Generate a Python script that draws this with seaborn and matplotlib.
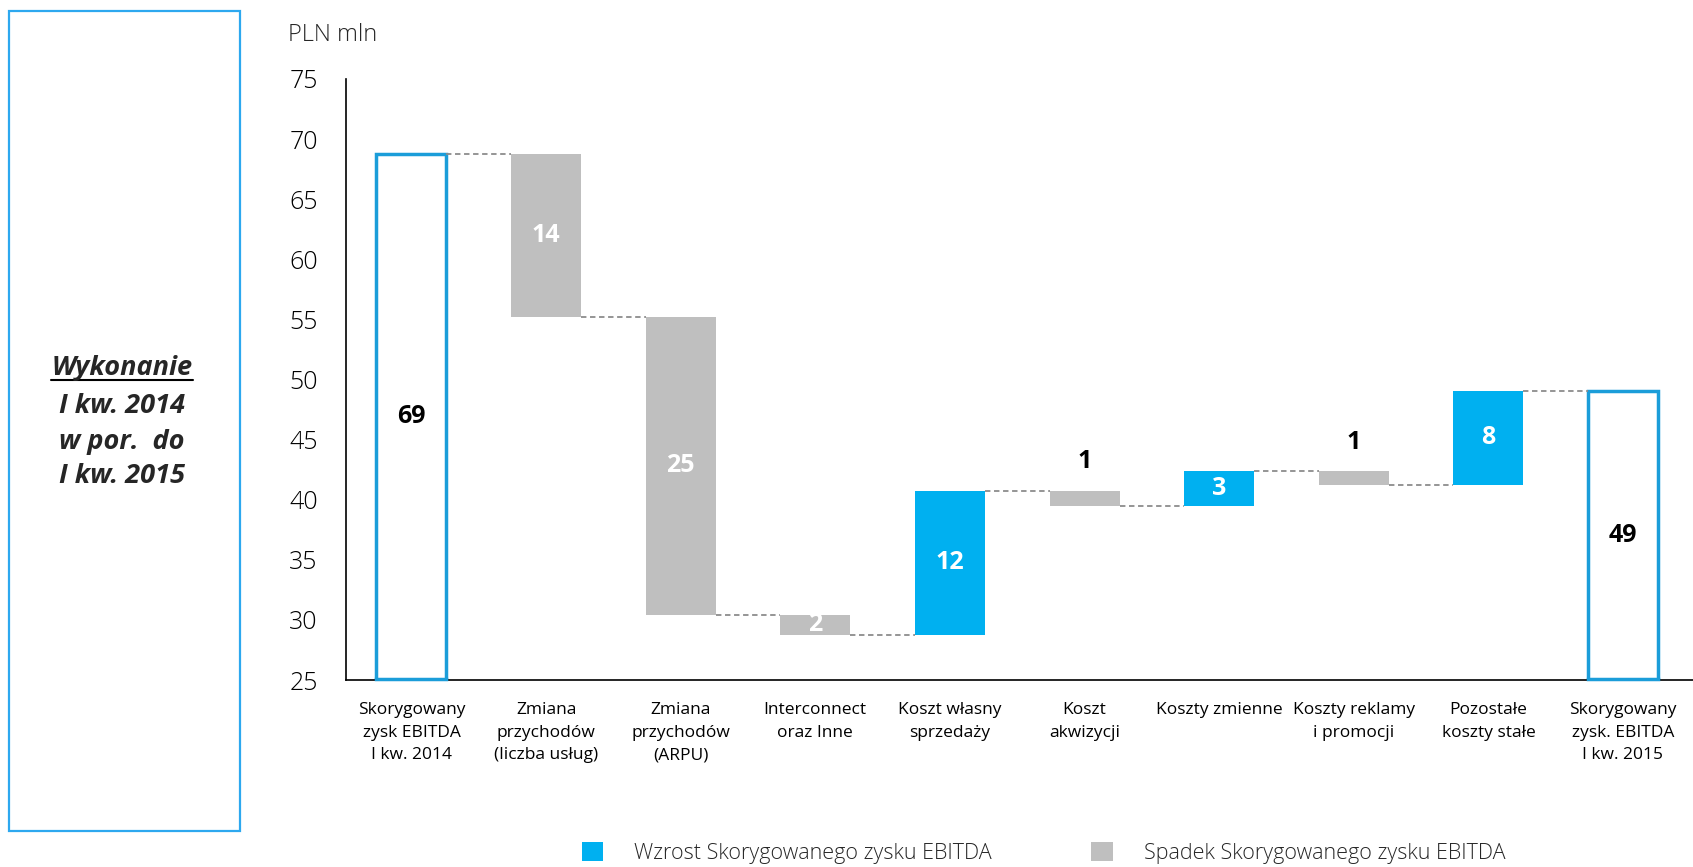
import numpy as np
import pandas as pd
import matplotlib
matplotlib.use("Agg")
import matplotlib.pyplot as plt
import seaborn as sns
from matplotlib.patches import Rectangle, Patch
from matplotlib.lines import Line2D

# ---------------- data ----------------
categories = [
    "Skorygowany\nzysk EBITDA\nI kw. 2014",
    "Zmiana\nprzychodów\n(liczba usług)",
    "Zmiana\nprzychodów\n(ARPU)",
    "Interconnect\noraz Inne",
    "Koszt własny\nsprzedaży",
    "Koszt\nakwizycji",
    "Koszty zmienne",
    "Koszty reklamy\ni promocji",
    "Pozostałe\nkoszty stałe",
    "Skorygowany\nzysk. EBITDA\nI kw. 2015",
]
start_value = 68.8
changes = [-13.6, -24.76, -1.68, 12.0, -1.25, 2.85, -1.1, 7.8]
value_labels = ["69", "14", "25", "2", "12", "1", "3", "1", "8", "49"]
labels_above = [False, False, False, False, False, True, False, True, False, False]
y_ticks = [25, 30, 35, 40, 45, 50, 55, 60, 65, 70, 75]
legend_labels = ["Wzrost Skorygowanego zysku EBITDA", "Spadek Skorygowanego zysku EBITDA"]
side_title = ["Wykonanie", "I kw. 2014", "w por.  do", "I kw. 2015"]

BLUE = "#00B0F0"
GREY = "#BFBFBF"
OUTLINE = "#1B9DD9"
BOX = "#2DA8EF"
CONN = "#8C8C8C"

# ---------------- derived ----------------
levels = np.concatenate([[start_value], start_value + np.cumsum(changes)])
end_value = levels[-1]
tops, bottoms, kinds = [start_value], [0.0], ["total"]
for i, c in enumerate(changes):
    prev, new = levels[i], levels[i + 1]
    tops.append(max(prev, new))
    bottoms.append(min(prev, new))
    kinds.append("up" if c > 0 else "down")
tops.append(end_value)
bottoms.append(0.0)
kinds.append("total")
df = pd.DataFrame(dict(cat=categories, top=tops, bottom=bottoms, kind=kinds))

sns.set_theme(style="white")
plt.rcParams["font.family"] = ["Open Sans", "DejaVu Sans"]

W, H = 1693, 867
fig = plt.figure(figsize=(W / 100, H / 100), dpi=100)
ax = fig.add_axes([345.5 / W, 1 - 680 / H, 1 - 345.5 / W, (680 - 79) / H])

bw = 0.52
deltas = df[df.kind != "total"]
totals = df[df.kind == "total"]
sns.barplot(data=deltas, x="cat", y="top", order=categories, hue="kind",
            palette={"up": BLUE, "down": GREY}, width=bw, saturation=1,
            legend=False, linewidth=0, dodge=False, ax=ax)
sns.barplot(data=deltas, x="cat", y="bottom", order=categories, color="white",
            width=bw, saturation=1, linewidth=0, ax=ax)
sns.barplot(data=totals, x="cat", y="top", order=categories, color=OUTLINE,
            fill=False, width=bw, linewidth=2.5, saturation=1, ax=ax)

ax.set_ylim(25, 75)
ax.set_xlim(-0.49, 9.52)
ymin = ax.get_ylim()[0]

# bottom edge of outlined total bars (bars start below the visible range)
for i, k in enumerate(kinds):
    if k == "total":
        ax.plot([i - bw / 2, i + bw / 2], [ymin + 0.12, ymin + 0.12], color=OUTLINE,
                lw=2.5, solid_capstyle="projecting", zorder=4, clip_on=False)

ax.set_yticks(y_ticks)
ax.set_yticklabels([str(v) for v in y_ticks], fontsize=18, fontweight="light")
ax.set_xticks(range(len(categories)))
ax.set_xticklabels(categories, fontsize=12.5, linespacing=1.55)
ax.tick_params(axis="y", length=0, pad=20, colors="black")
ax.tick_params(axis="x", length=0, pad=16, colors="black")
ax.set_xlabel("")
ax.set_ylabel("")
for s in ["top", "right"]:
    ax.spines[s].set_visible(False)
for s in ["left", "bottom"]:
    ax.spines[s].set_color("black")
    ax.spines[s].set_linewidth(1.2)

# connectors
for i in range(len(categories) - 1):
    ax.plot([i + bw / 2, i + 1 - bw / 2], [levels[i], levels[i]], color=CONN,
            lw=1.3, ls=(0, (3, 2)), zorder=1)

# value labels
for i, (lab, k) in enumerate(zip(value_labels, kinds)):
    if k == "total":
        y = (max(bottoms[i], ymin) + tops[i]) / 2
        col = "black"
    elif labels_above[i]:
        y = tops[i] + 2.4
        col = "black"
    else:
        y = (bottoms[i] + tops[i]) / 2
        col = "white"
    ax.text(i, y, lab, ha="center", va="center", color=col, fontsize=18,
            fontweight="bold", zorder=5)

# unit label
fig.text(288 / W, 1 - 35 / H, "PLN mln", ha="left", va="center", fontsize=17,
         fontweight="light")

# left box
fig.add_artist(Rectangle((8.6 / W, 1 - 831 / H), (240 - 8.6) / W, (831 - 10.8) / H,
                         transform=fig.transFigure, fill=False, edgecolor=BOX, lw=1.6))
ys = [368, 406, 442, 476]
txts = []
for s, yy in zip(side_title, ys):
    txts.append(fig.text(122 / W, 1 - yy / H, s, ha="center", va="center",
                         fontsize=19.5, fontweight="bold", fontstyle="italic"))

# legend
handles = [Patch(facecolor=BLUE, edgecolor="none"), Patch(facecolor=GREY, edgecolor="none")]
fig.legend(handles, legend_labels, loc="center", bbox_to_anchor=(0.6164, 0.016),
           ncol=2, frameon=False, handlelength=1.0, handleheight=1.0,
           handletextpad=1.45, columnspacing=4.6, prop={"size": 15.5, "weight": "light"})

# underline first side title line
fig.canvas.draw()
bb = txts[0].get_window_extent(fig.canvas.get_renderer())
yline = (bb.y0 + 1) / H
fig.add_artist(Line2D([bb.x0 / W, bb.x1 / W], [yline, yline], transform=fig.transFigure,
                      color="black", lw=1.5))

fig.savefig("out.png", dpi=100)
